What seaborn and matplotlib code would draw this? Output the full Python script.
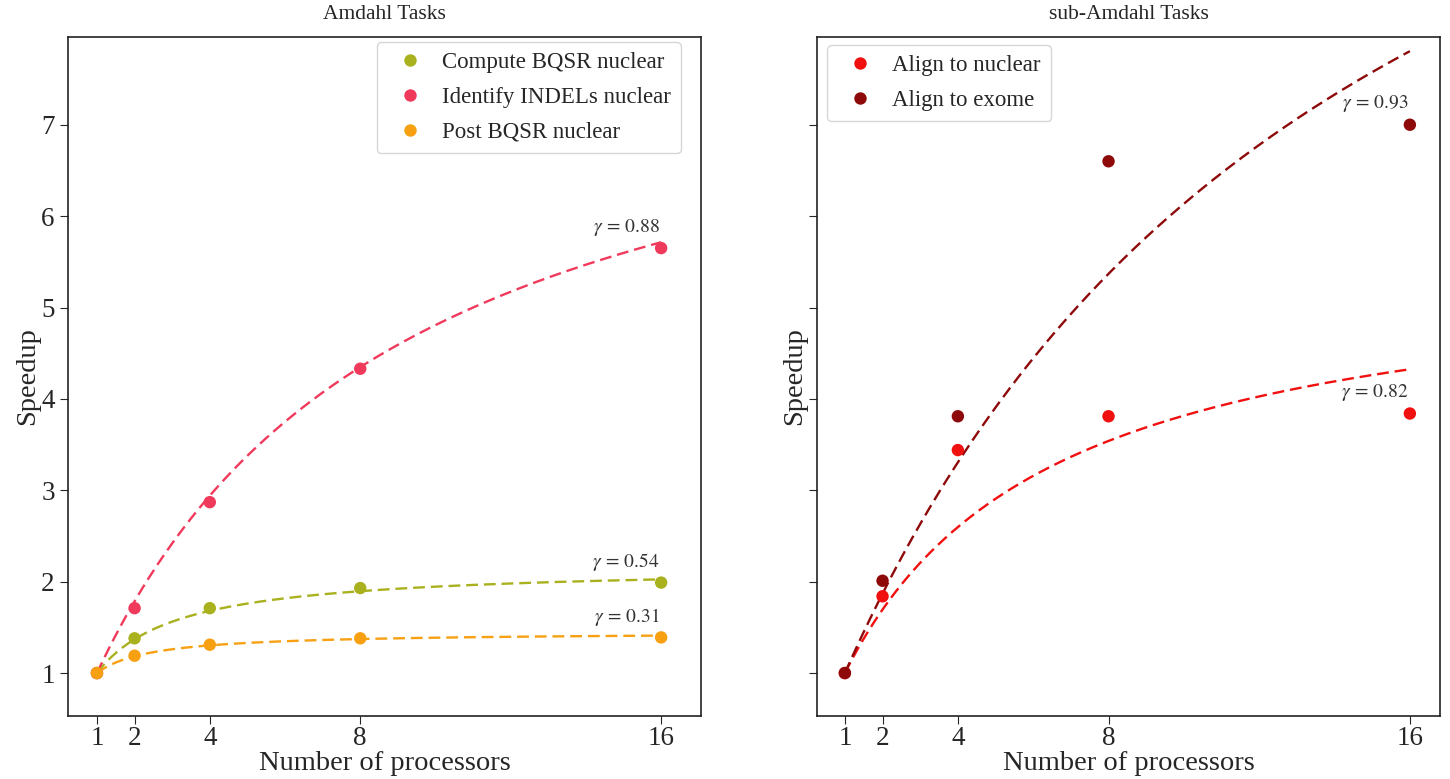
import numpy as np
import pandas as pd
import matplotlib
matplotlib.use("Agg")
import matplotlib.pyplot as plt
import seaborn as sns

# ---- data ----
processors = [1, 2, 4, 8, 16]

amdahl_names = ["Compute BQSR nuclear", "Identify INDELs nuclear", "Post BQSR nuclear"]
compute_bqsr = [1.0, 1.38, 1.71, 1.93, 1.99]
identify_indels = [1.0, 1.71, 2.87, 4.33, 5.65]
post_bqsr = [1.0, 1.19, 1.31, 1.38, 1.39]
amdahl_gamma = [0.54, 0.88, 0.31]

sub_names = ["Align to nuclear", "Align to exome"]
align_nuclear = [1.0, 1.84, 3.44, 3.81, 3.84]
align_exome = [1.0, 2.01, 3.81, 6.60, 7.00]
sub_gamma = [0.82, 0.93]

amdahl_colors = ["#aab11e", "#f03a5c", "#f6a012"]
sub_colors = ["#f01010", "#8e0a0a"]

sns.set_style("ticks")
plt.rcParams["font.family"] = ["Liberation Serif", "DejaVu Serif"]
plt.rcParams["mathtext.fontset"] = "stix"


def long_df(names, series):
    rows = []
    for n, s in zip(names, series):
        for p, v in zip(processors, s):
            rows.append({"task": n, "p": p, "speedup": v})
    return pd.DataFrame(rows)


def fit_df(names, gammas):
    rows = []
    grid = np.linspace(1, 16, 200)
    for n, g in zip(names, gammas):
        for p in grid:
            rows.append({"task": n, "p": p, "speedup": 1.0 / ((1 - g) + g / p)})
    return pd.DataFrame(rows)


fig = plt.figure(figsize=(14.5, 7.79), dpi=100)
ax0 = fig.add_axes([68 / 1450, 63 / 779, 633 / 1450, 679 / 779])
ax1 = fig.add_axes([817 / 1450, 63 / 779, 623 / 1450, 679 / 779], sharey=ax0)

panels = [
    (ax0, "Amdahl Tasks", amdahl_names, [compute_bqsr, identify_indels, post_bqsr], amdahl_gamma, amdahl_colors,
     dict(loc="upper right", bbox_to_anchor=(1 - 20 / 633, 1 - 5 / 679)), (0.23, 17.06)),
    (ax1, "sub-Amdahl Tasks", sub_names, [align_nuclear, align_exome], sub_gamma, sub_colors,
     dict(loc="upper left", bbox_to_anchor=(10 / 623, 1 - 8 / 679)), (0.26, 16.8)),
]

for ax, title, names, series, gammas, colors, legkw, xlim in panels:
    pal = dict(zip(names, colors))
    pts = long_df(names, series)
    fit = fit_df(names, gammas)
    sns.lineplot(data=fit, x="p", y="speedup", hue="task", palette=pal, ax=ax,
                 linestyle=(0, (5, 2.5)), linewidth=1.7, legend=False, zorder=2)
    sns.scatterplot(data=pts, x="p", y="speedup", hue="task", palette=pal, ax=ax,
                    s=80, edgecolor="none", zorder=3)
    for n, g, s in zip(names, gammas, series):
        ax.annotate(rf"$\gamma\,=\,{g:.2f}$", xy=(16, s[-1]), xytext=(-1, 15),
                    textcoords="offset points", ha="right", va="center",
                    fontsize=14, color="#333333")
    ax.set_title(title, fontsize=15.5, pad=13)
    ax.set_xlabel("Number of processors", fontsize=20.5, labelpad=0)
    ax.set_ylabel("Speedup", fontsize=20.5, labelpad=1)
    ax.set_xticks(processors)
    ax.set_xticklabels([str(p) for p in processors])
    ax.set_yticks([1, 2, 3, 4, 5, 6, 7])
    ax.tick_params(labelsize=19.5, length=6)
    ax.tick_params(axis="x", pad=1)
    ax.set_xlim(*xlim)
    ax.set_ylim(0.53, 7.96)
    ax.legend(fontsize=16.5, title=None, handletextpad=0.4, borderpad=0.45,
              labelspacing=0.6, borderaxespad=0, handlelength=2.0, **legkw)
    for sp in ax.spines.values():
        sp.set_linewidth(1.2)
        sp.set_color("#222222")

ax1.tick_params(labelleft=False)

fig.savefig("out.png", dpi=100)
